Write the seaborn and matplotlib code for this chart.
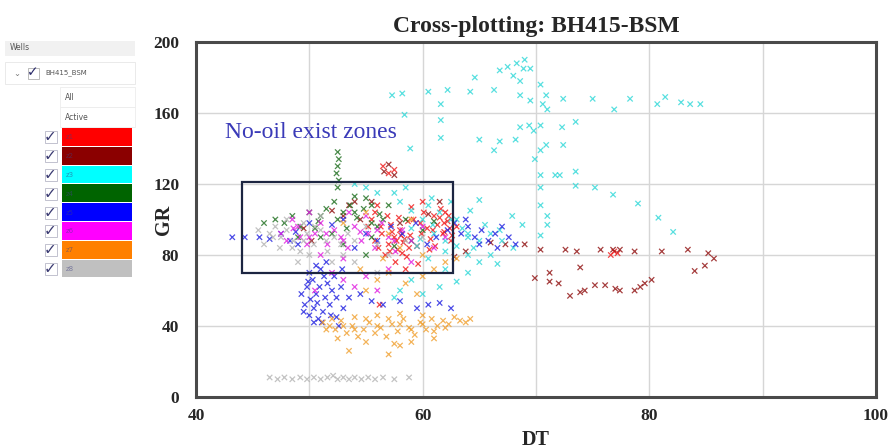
import matplotlib
matplotlib.use("Agg")
import matplotlib.pyplot as plt
from matplotlib.patches import Rectangle
import pandas as pd
import seaborn as sns

# Cross-plot samples (DT, GR) per zone of well BH415-BSM
z1 = [(55.2, 96), (55.8, 88), (56.1, 84), (56.4, 92), (56.7, 80), (57.0, 86), (57.2, 97), (57.5, 90),
      (57.8, 83), (58.0, 94), (58.3, 87), (58.6, 79), (58.9, 91), (59.2, 100), (59.5, 85), (59.8, 98),
      (60.1, 104), (60.4, 95), (60.7, 89), (61.0, 102), (61.3, 97), (61.6, 106), (61.9, 93), (62.2, 99),
      (62.5, 88), (56.0, 108), (56.9, 102), (57.6, 76), (58.2, 81), (59.0, 107), (60.0, 110), (61.1, 85),
      (61.8, 92), (62.4, 95), (55.5, 100), (57.3, 93), (58.7, 99), (60.6, 83), (62.0, 104), (63.0, 96),
      (56.5, 130), (57.0, 126), (57.5, 128), (76.6, 80), (76.9, 82), (77.2, 81), (56.2, 52), (58.5, 72),
      (59.6, 75), (55.8, 104), (56.3, 96), (57.9, 101), (58.8, 84), (59.9, 92), (60.9, 94), (61.5, 101),
      (62.6, 91), (57.1, 82), (58.4, 89), (57.7, 88), (58.1, 91), (61.9, 98), (62.3, 102)]
z2 = [(66.0, 87), (67.3, 86), (69.0, 86), (70.4, 83), (72.6, 83), (73.6, 82), (75.7, 83), (76.8, 83),
      (77.4, 83), (78.7, 82), (81.1, 82), (83.4, 83), (85.2, 81), (85.7, 78), (84.9, 74), (84.0, 71),
      (69.9, 67), (71.2, 70), (71.2, 65), (73.9, 59), (73.0, 57), (74.3, 60), (75.2, 63), (76.1, 63),
      (77.0, 61), (77.4, 60), (78.7, 60), (79.2, 62), (79.6, 64), (73.9, 73), (72.0, 64), (80.2, 66),
      (57.0, 131), (56.6, 127), (57.5, 125), (52.0, 105), (53.5, 108), (54.5, 100), (55.5, 110), (58.0, 98),
      (60.5, 103), (61.5, 110), (49.5, 95), (50.2, 88), (63.8, 82), (62.8, 79), (53.0, 102), (54.0, 110)]
z3 = [(57.3, 170), (58.2, 171), (58.4, 159), (60.5, 172), (62.2, 173), (64.2, 172), (66.3, 173), (61.6, 165),
      (61.6, 156), (61.6, 146), (58.9, 140), (65.0, 145), (68.3, 188), (68.9, 185), (66.8, 184), (64.6, 180),
      (68.6, 178), (68.6, 170), (70.4, 176), (69.5, 167), (70.9, 170), (70.6, 165), (70.4, 153), (71.0, 162),
      (72.4, 168), (75.0, 168), (78.3, 168), (76.9, 162), (80.7, 165), (81.4, 169), (82.8, 166), (83.6, 165),
      (84.5, 165), (68.6, 152), (69.4, 153), (69.8, 150), (72.3, 152), (73.5, 155), (68.2, 145), (66.8, 144),
      (66.3, 139), (70.4, 139), (70.9, 142), (72.4, 142), (69.9, 134), (70.4, 125), (71.7, 125), (72.1, 125),
      (73.5, 127), (73.5, 119), (75.2, 118), (76.8, 114), (79.0, 109), (80.8, 101), (82.1, 93), (70.4, 118),
      (70.4, 108), (71.0, 102), (71.0, 97), (70.4, 91), (67.9, 102), (68.8, 97), (66.8, 94), (65.5, 97),
      (64.2, 105), (65.0, 111), (69.5, 185), (68.0, 181), (69.0, 190), (67.5, 186), (58.0, 110), (59.0, 105),
      (60.0, 100), (61.0, 92), (62.0, 88), (59.5, 85), (57.5, 115), (58.5, 118), (60.8, 112), (62.5, 100),
      (63.5, 95), (64.0, 90), (63.0, 85), (64.5, 84), (66.0, 80), (65.0, 76), (66.6, 75), (64.0, 70),
      (62.0, 72), (60.5, 78), (59.0, 66), (58.0, 60), (60.0, 58), (61.5, 62), (57.5, 56), (63.0, 65),
      (56.0, 115), (55.0, 118), (54.0, 120), (59.0, 95), (60.5, 108), (61.5, 104), (62.5, 110), (63.0, 100),
      (64.0, 92), (65.0, 88), (66.0, 92), (67.0, 88), (68.0, 84), (64.0, 80), (62.0, 82), (59.8, 89),
      (60.9, 97)]
z4 = [(52.5, 138), (52.6, 134), (52.5, 130), (52.4, 126), (52.6, 122), (52.5, 118), (47.0, 100), (47.8, 98),
      (48.5, 102), (49.2, 96), (50.0, 104), (50.8, 99), (51.5, 106), (52.2, 110), (53.0, 104), (53.6, 108),
      (54.2, 101), (54.8, 106), (55.5, 98), (56.2, 103), (53.3, 95), (52.0, 92), (51.0, 90), (50.5, 95),
      (54.0, 113), (55.0, 112), (56.0, 96), (57.0, 108), (58.5, 100), (60.0, 94), (59.0, 88), (61.0, 99),
      (55.5, 90), (57.5, 85), (53.0, 86), (49.0, 90), (46.0, 98), (55.0, 80), (51.0, 102), (52.5, 100),
      (54.0, 104), (55.5, 108), (56.5, 100)]
z5 = [(43.2, 90), (44.3, 90), (45.6, 90), (46.5, 89), (47.5, 92), (48.3, 88), (49.0, 86), (48.8, 93),
      (50.0, 70), (50.3, 66), (49.8, 62), (50.6, 58), (50.1, 55), (50.4, 50), (50.0, 46), (50.8, 44),
      (51.2, 48), (51.8, 52), (51.4, 56), (52.0, 60), (51.6, 64), (52.2, 68), (52.8, 62), (51.0, 72),
      (51.5, 76), (50.6, 74), (52.4, 45), (53.0, 50), (49.6, 52), (51.1, 42), (52.6, 40), (53.5, 56),
      (54.5, 58), (55.5, 54), (56.5, 52), (58.0, 54), (59.5, 50), (60.5, 52), (61.5, 53), (62.5, 50),
      (54.0, 84), (55.0, 92), (56.0, 88), (57.2, 96), (58.2, 92), (59.4, 98), (60.4, 86), (61.2, 90),
      (62.2, 94), (62.8, 98), (63.4, 92), (64.0, 96), (64.6, 90), (65.2, 94), (65.8, 88), (66.4, 92),
      (67.0, 96), (67.6, 90), (68.2, 86), (66.6, 84), (65.0, 86), (63.8, 100), (53.0, 100), (52.0, 97),
      (50.0, 98), (49.3, 58), (50.9, 62), (51.3, 68), (52.4, 56), (49.5, 48), (50.7, 53), (51.9, 46),
      (52.9, 72), (49.9, 65), (50.4, 42)]
z6 = [(47.5, 92), (48.0, 88), (48.6, 95), (49.2, 90), (49.8, 86), (50.5, 92), (51.0, 98), (51.6, 86),
      (52.2, 94), (52.8, 90), (53.4, 84), (54.0, 96), (54.6, 88), (55.2, 92), (55.8, 84), (56.4, 98),
      (57.0, 90), (57.6, 82), (58.2, 94), (59.0, 88), (60.0, 96), (61.0, 84), (62.0, 90), (52.0, 70),
      (53.0, 66), (54.0, 62), (55.0, 68), (56.0, 60), (53.0, 78), (51.0, 80), (50.5, 60), (57.0, 72),
      (59.0, 76), (48.5, 100), (50.0, 104), (53.5, 104), (55.0, 102), (49.0, 96), (50.0, 90), (51.5, 92),
      (53.0, 88), (54.5, 93), (56.0, 94), (57.5, 88)]
z7 = [(51.2, 42), (51.8, 40), (52.3, 38), (52.8, 43), (53.3, 36), (53.8, 40), (54.3, 34), (54.8, 38),
      (55.3, 42), (55.8, 36), (56.3, 39), (56.8, 34), (57.3, 41), (57.8, 37), (58.3, 44), (58.8, 39),
      (59.3, 35), (59.8, 42), (60.3, 38), (60.8, 44), (61.3, 40), (61.8, 43), (62.3, 41), (62.8, 45),
      (63.3, 43), (54.0, 45), (56.0, 46), (58.0, 47), (60.0, 46), (52.5, 33), (55.0, 31), (57.5, 30),
      (59.0, 31), (53.5, 26), (57.0, 24), (58.0, 29), (61.0, 33), (55.0, 60), (56.0, 66), (57.0, 70),
      (58.5, 64), (60.0, 68), (61.0, 72), (59.5, 58), (54.5, 72), (56.5, 78), (58.0, 84), (60.0, 80),
      (62.0, 76), (63.0, 78), (57.0, 92), (59.0, 100), (55.0, 104), (53.0, 98), (51.5, 38), (52.0, 44),
      (53.0, 40), (54.0, 38), (55.0, 44), (56.0, 40), (57.0, 44), (58.0, 41), (59.0, 38), (60.0, 41),
      (61.0, 37), (62.0, 39), (63.8, 42), (64.2, 44)]
z8 = [(46.5, 11), (47.2, 10), (47.8, 11), (48.5, 10), (49.2, 11), (49.8, 10), (50.4, 11), (51.0, 10),
      (51.6, 11), (52.1, 12), (52.5, 10), (53.0, 11), (53.5, 10), (54.0, 11), (54.6, 10), (55.2, 11),
      (55.8, 10), (56.5, 11), (57.5, 10), (58.8, 11), (46.0, 86), (46.8, 90), (47.4, 84), (48.0, 94),
      (48.6, 88), (49.2, 82), (49.8, 92), (50.4, 86), (51.0, 94), (51.6, 82), (52.2, 90), (52.8, 86),
      (53.4, 92), (47.0, 96), (48.0, 100), (49.5, 98), (51.0, 102), (45.5, 94), (50.0, 80), (53.0, 80),
      (54.0, 88), (55.0, 96), (56.0, 86), (54.0, 76), (52.0, 76), (57.0, 80), (58.5, 88), (60.0, 90),
      (56.0, 70), (49.0, 76), (47.5, 90), (48.5, 84), (49.5, 88), (50.5, 96), (51.5, 88), (46.5, 92)]

zone_names = ["z1", "z2", "z3", "z4", "z5", "z6", "z7", "z8"]
zone_points = [z1, z2, z3, z4, z5, z6, z7, z8]
swatch_colors = ["#ff0000", "#8b0000", "#00ffff", "#006400", "#0000ff", "#ff00ff", "#ff8000", "#c0c0c0"]
point_colors = ["#f01818", "#901010", "#30d8d8", "#1e6e1e", "#2020e0", "#e020e0", "#f0a030", "#b4b4b4"]

x_ticks = [40, 50, 60, 70, 80, 90, 100]
x_labels = ["40", "", "60", "", "80", "", "100"]
y_ticks = [0, 40, 80, 120, 160, 200]
zone_box = (44.1, 70, 62.7, 121)  # DT min, GR min, DT max, GR max

rows = []
for name, pts in zip(zone_names, zone_points):
    for dt, gr in pts:
        rows.append({"zone": name, "DT": dt, "GR": gr})
df = pd.DataFrame(rows)

sns.set_theme(style="white")
plt.rcParams["font.family"] = ["Liberation Serif", "DejaVu Serif"]

W, H = 892, 448
fig = plt.figure(figsize=(W / 100, H / 100), dpi=100)
ax = fig.add_axes([196 / W, 1 - 397 / H, 680 / W, 355 / H])

sns.scatterplot(data=df, x="DT", y="GR", hue="zone",
                palette=dict(zip(zone_names, point_colors)),
                marker="x", s=15, linewidth=0.9, alpha=0.8,
                legend=False, ax=ax, zorder=3)

ax.set_xlim(40, 100)
ax.set_ylim(0, 200)
ax.set_xticks(x_ticks)
ax.set_xticklabels(x_labels)
ax.set_yticks(y_ticks)
ax.grid(True, color="#d6d6d6", lw=1.0, zorder=0)
ax.tick_params(length=0, labelsize=12.5)
ax.tick_params(axis="y", pad=12)
ax.tick_params(axis="x", pad=8)
for lab in ax.get_xticklabels() + ax.get_yticklabels():
    lab.set_fontweight("bold")
for sp in ax.spines.values():
    sp.set_color("#4a4a4a")
    sp.set_linewidth(2.2)

ax.set_xlabel("DT", fontsize=14.5, fontweight="bold", labelpad=4)
ax.set_ylabel("GR", fontsize=14.5, fontweight="bold")
ax.yaxis.set_label_coords(-0.033, 0.5)
ax.set_title("Cross-plotting: BH415-BSM", fontsize=17, fontweight="bold", pad=7)

x0, y0, x1, y1 = zone_box
ax.add_patch(Rectangle((x0, y0), x1 - x0, y1 - y0, fill=False,
                       ec="#1c2541", lw=1.6, zorder=5))
ax.text(42.6, 149, "No-oil exist zones", fontsize=17, color="#3a3ab8",
        va="center", ha="left", zorder=6)


# Well / zone selector panel on the left
def fx(px):
    return px / W


def fy(py):
    return 1 - py / H


ui_font = ["DejaVu Sans"]
fig.add_artist(Rectangle((fx(5), fy(56)), fx(130), 15 / H, transform=fig.transFigure,
                         fc="#f1f1f1", ec="none"))
fig.text(fx(10), fy(48), "Wells", fontsize=5.5, color="#555555", va="center",
         family=ui_font)
fig.add_artist(Rectangle((fx(5), fy(84)), fx(130), 22 / H, transform=fig.transFigure,
                         fc="white", ec="#e6e6e6", lw=0.6))
fig.text(fx(13), fy(73), "⌄", fontsize=6, color="#777777", va="center", family=ui_font)
fig.add_artist(Rectangle((fx(28), fy(79)), fx(11), 11 / H, transform=fig.transFigure,
                         fc="white", ec="#b0b0b0", lw=0.6))
fig.text(fx(27), fy(72), "✓", fontsize=10, color="#2a2a6a", va="center",
         family=ui_font, fontweight="bold")
fig.text(fx(45), fy(73), "BH415_BSM", fontsize=5, color="#555555", va="center",
         family=ui_font)
for py, txt in [(97, "All"), (117, "Active")]:
    fig.add_artist(Rectangle((fx(60), fy(py + 10)), fx(75), 20 / H,
                             transform=fig.transFigure, fc="white",
                             ec="#ececec", lw=0.6))
    fig.text(fx(65), fy(py), txt, fontsize=5.5, color="#555555", va="center",
             family=ui_font)

row_top, row_h = 128, 18.8
for i, (name, col) in enumerate(zip(zone_names, swatch_colors)):
    top = row_top + i * row_h
    mid = top + row_h / 2
    fig.add_artist(Rectangle((fx(62), fy(top + row_h - 1)), fx(70), (row_h - 1) / H,
                             transform=fig.transFigure, fc=col, ec="none"))
    fig.add_artist(Rectangle((fx(45), fy(mid + 6)), fx(12), 12 / H,
                             transform=fig.transFigure, fc="white",
                             ec="#b8b8c8", lw=0.6))
    fig.text(fx(44), fy(mid - 0.5), "✓", fontsize=11, color="#3a3a72", va="center",
             family=ui_font, fontweight="bold")
    fig.text(fx(66), fy(mid), name, fontsize=5, color="#404080", alpha=0.55,
             va="center", family=ui_font)

fig.savefig("out.png", dpi=100)
